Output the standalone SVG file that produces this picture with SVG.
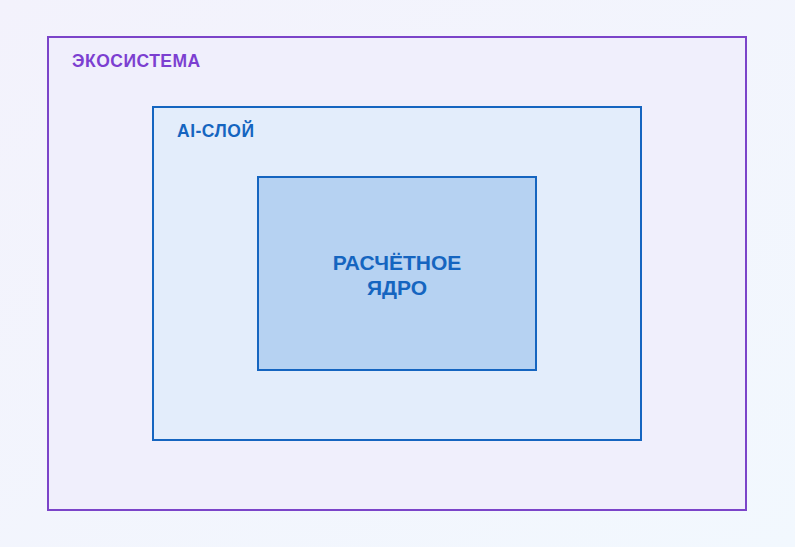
<svg xmlns="http://www.w3.org/2000/svg" width="795" height="547" viewBox="0 0 795 547">
<defs>
<linearGradient id="bg" x1="0" y1="0" x2="1" y2="1">
<stop offset="0" stop-color="#f3f2fc"/>
<stop offset="1" stop-color="#f2f8fe"/>
</linearGradient>
<style>
.lbl{font-family:"Liberation Sans",Arial,sans-serif;font-weight:bold}
</style>
</defs>
<rect width="795" height="547" fill="url(#bg)"/>
<g id="ecosystem">
<rect x="48" y="37" width="698" height="473" fill="#f0effc" stroke="#7b44c9" stroke-width="2"/>
<text class="lbl" x="72" y="67" font-size="17.5" fill="#7c3fd1" letter-spacing="0.5">ЭКОСИСТЕМА</text>
</g>
<g id="ai-layer">
<rect x="153" y="107" width="488" height="333" fill="#e3edfb" stroke="#1565c0" stroke-width="2"/>
<text class="lbl" x="177" y="137" font-size="17.5" fill="#1565c0" letter-spacing="0.5">AI-СЛОЙ</text>
</g>
<g id="core">
<rect x="258" y="177" width="278" height="193" fill="#b6d2f2" stroke="#1565c0" stroke-width="2"/>
<text class="lbl" x="397" y="269.5" font-size="21" fill="#1565c0" text-anchor="middle">РАСЧЁТНОЕ</text>
<text class="lbl" x="397" y="295" font-size="21" fill="#1565c0" text-anchor="middle">ЯДРО</text>
</g>
<g id="connectors"/>
</svg>
